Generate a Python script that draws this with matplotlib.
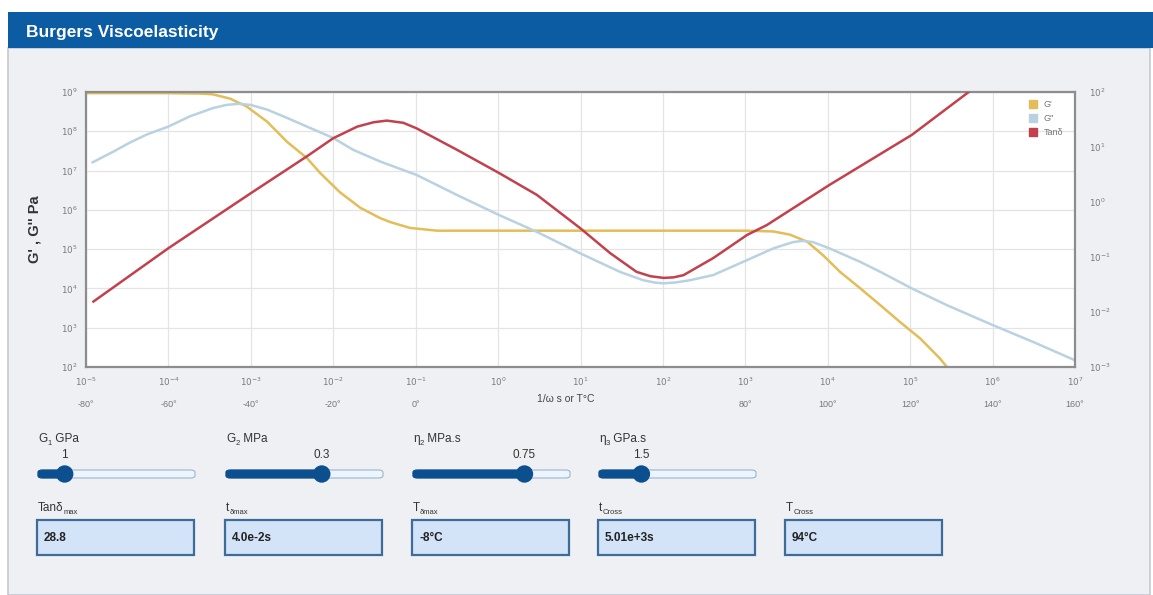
import matplotlib
matplotlib.use('Agg')
import matplotlib.pyplot as plt
from matplotlib.patches import Rectangle, FancyBboxPatch, Ellipse
from matplotlib.lines import Line2D
import numpy as np

plt.rcParams['font.family'] = ['Liberation Sans', 'DejaVu Sans']

# ---- data (log10 values) ----
gp_log_t = [-5.0, -4.0, -3.6, -3.46, -3.25, -3.05, -2.80, -2.56, -2.32, -2.16, -1.92, -1.67,
            -1.43, -1.31, -1.07, -0.74, 0.0, 1.0, 2.0, 3.0, 3.34, 3.54, 3.75,
            3.94, 4.15, 4.39, 4.64, 4.88, 5.12, 5.36, 5.45]
gp_log_g = [8.97, 8.97, 8.96, 8.94, 8.83, 8.63, 8.24, 7.73, 7.32, 6.94, 6.45, 6.05,
            5.79, 5.69, 5.54, 5.47, 5.47, 5.47, 5.47, 5.47, 5.45, 5.37, 5.19,
            4.85, 4.42, 4.01, 3.57, 3.14, 2.73, 2.22, 1.99]

gpp_log_t = [-4.92, -4.67, -4.47, -4.26, -4.00, -3.74, -3.46, -3.30, -3.15, -3.00, -2.80,
             -2.56, -2.32, -2.00, -1.76, -1.43, -0.99, -0.50, 0.01, 0.47, 1.00,
             1.48, 1.76, 1.90, 2.00, 2.15, 2.33, 2.61, 3.02, 3.34, 3.58, 3.70, 3.82, 4.02,
             4.39, 4.64, 5.02, 5.45, 6.01, 6.49, 7.00]
gpp_log_g = [7.21, 7.48, 7.71, 7.92, 8.12, 8.38, 8.59, 8.67, 8.70, 8.67, 8.55,
             8.34, 8.12, 7.83, 7.53, 7.23, 6.89, 6.38, 5.87, 5.44, 4.89,
             4.42, 4.21, 4.15, 4.13, 4.15, 4.21, 4.34, 4.72, 5.02, 5.18, 5.21, 5.18, 5.02,
             4.68, 4.42, 4.00, 3.57, 3.06, 2.64, 2.17]

tan_log_t = [-4.91, -4.00, -3.00, -2.32, -2.00, -1.71, -1.51, -1.35, -1.15, -0.99,
             -0.50, 0.02, 0.47, 1.00, 1.36, 1.68, 1.85, 2.01, 2.13, 2.25, 2.61, 3.02,
             3.26, 4.02, 5.02, 5.71, 6.00]
tan_log_v = [-1.81, -0.84, 0.16, 0.83, 1.16, 1.37, 1.45, 1.48, 1.44, 1.34,
             0.95, 0.52, 0.13, -0.48, -0.93, -1.27, -1.35, -1.38, -1.37, -1.33, -1.02, -0.60,
             -0.42, 0.31, 1.22, 2.00, 2.29]

x_decades = list(range(-5, 8))
left_decades = list(range(2, 10))
right_decades = list(range(-3, 3))
temp_labels = {-5: '-80°', -4: '-60°', -3: '-40°', -2: '-20°', -1: '0°',
               3: '80°', 4: '100°', 5: '120°', 6: '140°', 7: '160°'}

sliders = [("G", "1", " GPa", "1", 0.17), ("G", "2", " MPa", "0.3", 0.61),
           ("η", "2", " MPa.s", "0.75", 0.71), ("η", "3", " GPa.s", "1.5", 0.27)]
outputs = [("Tanδ", "max", "28.8"), ("t", "δmax", "4.0e-2s"), ("T", "δmax", "-8°C"),
           ("t", "Cross", "5.01e+3s"), ("T", "Cross", "94°C")]

C_GP = '#e2bd58'
C_GPP = '#b9d2e2'
C_TAN = '#c2414c'
W, H = 1153, 595


def fx(x):
    return x / W


def fy(y):
    return 1 - y / H


fig = plt.figure(figsize=(W / 100, H / 100), dpi=100)
fig.patch.set_facecolor('white')

# panel + title bar
fig.patches.append(Rectangle((fx(8), fy(595)), fx(1142), 547 / H, transform=fig.transFigure,
                             facecolor='#eef0f4', edgecolor='#c5cad3', lw=1.2, zorder=-3))
fig.patches.append(Rectangle((fx(8), fy(48)), fx(1145), 36 / H, transform=fig.transFigure,
                             facecolor='#0b5ca3', edgecolor='none', zorder=-2))
fig.text(fx(26), fy(32), "Burgers Viscoelasticity", color='white', fontsize=12.5,
         fontweight='bold', va='center', ha='left')

# ---- chart ----
ax = fig.add_axes([fx(86), fy(367), (1075 - 86) / W, (367 - 92) / H])
ax.set_facecolor('white')
ax.set_xscale('log')
ax.set_yscale('log')
ax.set_xlim(1e-5, 1e7)
ax.set_ylim(1e2, 1e9)
ax.set_xticks([10.0 ** d for d in x_decades])
ax.set_xticklabels([f"$10^{{{d}}}$" for d in x_decades])
ax.set_yticks([10.0 ** d for d in left_decades])
ax.set_yticklabels([f"$10^{{{d}}}$" for d in left_decades])
ax.minorticks_off()
ax.tick_params(length=0, labelsize=6.3, labelcolor='#7a7a7a', pad=6)
ax.grid(True, color='#e4e4e4', lw=0.9)
for s in ax.spines.values():
    s.set_color('#8d8d8d')
    s.set_linewidth(1.6)

ax.plot(10.0 ** np.array(gp_log_t), 10.0 ** np.array(gp_log_g), color=C_GP, lw=1.8)
ax.plot(10.0 ** np.array(gpp_log_t), 10.0 ** np.array(gpp_log_g), color=C_GPP, lw=1.8)

ax2 = ax.twinx()
ax2.set_yscale('log')
ax2.set_ylim(1e-3, 1e2)
ax2.set_yticks([10.0 ** d for d in right_decades])
ax2.set_yticklabels([f"$10^{{{d}}}$" for d in right_decades])
ax2.minorticks_off()
ax2.tick_params(length=0, labelsize=6.3, labelcolor='#7a7a7a', pad=10)
for s in ax2.spines.values():
    s.set_visible(False)
ax2.plot(10.0 ** np.array(tan_log_t), 10.0 ** np.array(tan_log_v), color=C_TAN, lw=1.8)

ax.set_ylabel("G' , G'' Pa", fontsize=10.5, fontweight='bold', color='#333333', labelpad=14)

for d, lab in temp_labels.items():
    ax.text(10.0 ** d, -0.135, lab, transform=ax.get_xaxis_transform(), ha='center',
            va='center', fontsize=6.5, color='#777777')
fig.text(fx(566), fy(399), "1/ω s or T°C", ha='center', va='center', fontsize=7.5,
         color='#444444')

handles = [Line2D([], [], marker='s', ls='none', color=c, markersize=5.5)
           for c in (C_GP, C_GPP, C_TAN)]
ax2.legend(handles, ["G'", "G''", "Tanδ"], loc='upper right', bbox_to_anchor=(0.992, 0.985),
           frameon=False, fontsize=6.5, labelcolor='#777777', handletextpad=0.2,
           labelspacing=0.55, borderaxespad=0)

renderer = fig.canvas.get_renderer()


def sub_label(x, y, main, sub, rest='', size=8.5, subsize=5.5):
    t = fig.text(fx(x), fy(y), main, fontsize=size, color='#333333', va='baseline')
    bb = t.get_window_extent(renderer)
    t2 = fig.text(bb.x1 / fig.bbox.width, fy(y + 3), sub, fontsize=subsize,
                  color='#333333', va='baseline')
    if rest:
        bb2 = t2.get_window_extent(renderer)
        fig.text(bb2.x1 / fig.bbox.width, fy(y), rest, fontsize=size, color='#333333',
                 va='baseline')


# ---- sliders ----
slider_x = [38, 226, 413, 599]
track_w = 157
for (main, sub, unit, val, frac), x0 in zip(sliders, slider_x):
    sub_label(x0, 442, main, sub, unit)
    tx = x0 + frac * track_w
    fig.text(fx(tx), fy(455), val, fontsize=8.5, color='#333333', ha='center', va='center')
    fig.patches.append(FancyBboxPatch((fx(x0), fy(478)), track_w / W, 8 / H,
                                      boxstyle='round,pad=0,rounding_size=0.004',
                                      transform=fig.transFigure, facecolor='#eaf5ff',
                                      edgecolor='#9fb4c8', lw=0.8, zorder=2))
    fig.patches.append(FancyBboxPatch((fx(x0), fy(478)), (tx - x0) / W, 8 / H,
                                      boxstyle='round,pad=0,rounding_size=0.004',
                                      transform=fig.transFigure, facecolor='#0c4f8e',
                                      edgecolor='#0c4f8e', lw=0.8, zorder=3))
    fig.patches.append(Ellipse((fx(tx), fy(474)), 16 / W, 16 / H,
                               transform=fig.transFigure, facecolor='#0c4f8e',
                               edgecolor='#0c4f8e', zorder=4))

# ---- output boxes ----
box_x = [37, 225, 412, 598, 785]
for (main, sub, val), x0 in zip(outputs, box_x):
    sub_label(x0 + 1, 511, main, sub)
    fig.patches.append(Rectangle((fx(x0), fy(555)), 157 / W, 35 / H, transform=fig.transFigure,
                                 facecolor='#d3e3f8', edgecolor='#3d6c98', lw=1.6, zorder=2))
    fig.text(fx(x0 + 7), fy(538), val, fontsize=8.5, fontweight='bold', color='#222222',
             va='center', ha='left')

fig.savefig('out.png', dpi=100)
